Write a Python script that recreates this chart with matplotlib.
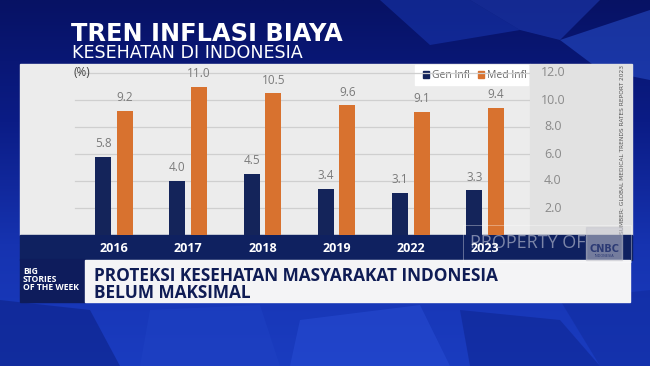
import matplotlib
matplotlib.use("Agg")
import matplotlib.pyplot as plt
import matplotlib.patches as mpatches
import numpy as np

# data
years = ["2016", "2017", "2018", "2019", "2022", "2023"]
gen_infl = [5.8, 4.0, 4.5, 3.4, 3.1, 3.3]
med_infl = [9.2, 11.0, 10.5, 9.6, 9.1, 9.4]
right_ticks = [2.0, 4.0, 6.0, 8.0, 10.0, 12.0]

W, H = 650, 366
NAVY = "#14245a"
ORANGE = "#d8722f"
LABEL_GRAY = "#7a7a7a"


def box(x0, y0, x1, y1):
    # pixel box (top-left origin) -> figure fraction rect
    return [x0 / W, 1 - y1 / H, (x1 - x0) / W, (y1 - y0) / H]


fig = plt.figure(figsize=(6.5, 3.66), dpi=100)

# ---- background (blue tv graphic) ----
bg = fig.add_axes([0, 0, 1, 1])
bg.set_xlim(0, W)
bg.set_ylim(H, 0)
bg.axis("off")
grad = np.linspace(0, 1, 256)[:, None] * np.ones((1, 256))
cmap = matplotlib.colors.LinearSegmentedColormap.from_list(
    "tvbg", ["#071264", "#0b1c86", "#1633b0", "#1a3cc0"])
bg.imshow(grad, extent=[0, W, H, 0], cmap=cmap, aspect="auto", zorder=0)

# some cube shapes
cubes = [
    ([(380, 0), (470, 0), (520, 30), (430, 45)], "#1a3ab8", 0.5),
    ([(470, 0), (600, 0), (560, 40), (520, 30)], "#2447c8", 0.45),
    ([(560, 40), (650, 10), (650, 80), (600, 70)], "#2b55d6", 0.5),
    ([(0, 300), (90, 310), (120, 366), (0, 366)], "#0d2288", 0.6),
    ([(150, 310), (260, 305), (280, 366), (140, 366)], "#1f42c4", 0.5),
    ([(300, 320), (420, 305), (450, 366), (290, 366)], "#2a50d8", 0.45),
    ([(460, 310), (560, 320), (600, 366), (470, 366)], "#0e2490", 0.55),
    ([(560, 300), (650, 290), (650, 366), (600, 366)], "#102a9c", 0.5),
]
for pts, c, a in cubes:
    bg.add_patch(mpatches.Polygon(pts, closed=True, color=c, alpha=a, lw=0, zorder=1))

# title
bg.text(71, 41, "TREN INFLASI BIAYA", color="white", fontsize=17.3,
        fontweight="bold", family="DejaVu Sans", va="baseline", zorder=5)
bg.text(72, 57.5, "KESEHATAN DI INDONESIA", color="white", fontsize=12.6,
        family="DejaVu Sans", va="baseline", zorder=5)

# chart panel
bg.add_patch(mpatches.Rectangle((20, 64), 510, 171, color="#ececec", zorder=2))
bg.add_patch(mpatches.Rectangle((530, 64), 102, 171, color="#e2e2e2", zorder=2))
bg.add_patch(mpatches.Rectangle((20, 235), 612, 25, color="#0f2160", zorder=2))

# right axis labels
for t in right_ticks:
    y = 235 - t * 13.5
    bg.text(553, y, f"{t:.1f}", color="#8a8a8a", fontsize=9, ha="center",
            va="center", family="Open Sans", zorder=5)

bg.text(623, 150, "SUMBER: GLOBAL MEDICAL TRENDS RATES REPORT 2023", rotation=90,
        color="#555555", fontsize=4.2, ha="center", va="center", zorder=5)

# year labels on the navy strip
for i, yr in enumerate(years):
    bg.text(114 + 74.2 * i, 248, yr, color="white", fontsize=9, fontweight="bold",
            ha="center", va="center", family="Open Sans", zorder=5)

# lower third
bg.add_patch(mpatches.Rectangle((20, 259), 65, 43, color="#0e1c5c", zorder=2))
bg.add_patch(mpatches.Rectangle((85, 260), 545, 42, color="#f4f4f6", zorder=2))
for k, line in enumerate(["BIG", "STORIES", "OF THE WEEK"]):
    bg.text(23, 272 + 7.5 * k, line, color="white", fontsize=6.2, fontweight="bold",
            va="center", family="Open Sans", zorder=5)
bg.text(94, 276, "PROTEKSI KESEHATAN MASYARAKAT INDONESIA", color="#0f1c55",
        fontsize=12.4, fontweight="bold", va="center", family="Open Sans", zorder=5)
bg.text(94, 293, "BELUM MAKSIMAL", color="#0f1c55", fontsize=12.4,
        fontweight="bold", va="center", family="Open Sans", zorder=5)

# ---- bar chart ----
ax = fig.add_axes(box(20, 64, 530, 235))
ax.set_facecolor("none")
x = np.arange(len(years))
bw = 0.215
ax.set_xlim((20 - 114) / 74.2, (530 - 114) / 74.2)
ax.set_ylim(0, 171 / 13.5)
for t in right_ticks:
    ax.axhline(t, xmin=55 / 510, xmax=1, color="#cfcfcf", lw=0.9, zorder=0)

ax.bar(x - 0.145, gen_infl, bw, color=NAVY, zorder=2)
ax.bar(x + 0.145, med_infl, bw, color=ORANGE, zorder=2)
for xi, g, m in zip(x, gen_infl, med_infl):
    ax.text(xi - 0.145, g + 0.5, f"{g:.1f}", ha="center", va="bottom",
            color=LABEL_GRAY, fontsize=8.5, family="Open Sans")
    ax.text(xi + 0.145, m + 0.5, f"{m:.1f}", ha="center", va="bottom",
            color=LABEL_GRAY, fontsize=8.5, family="Open Sans")
ax.text(-0.43, 12.05, "(%)", color="#444444", fontsize=8.5, ha="center",
        va="center", family="Open Sans")
ax.set_xticks([])
ax.set_yticks([])
for s in ax.spines.values():
    s.set_visible(False)

# legend box (drawn on the background axes, in pixels)
bg.add_patch(mpatches.Rectangle((415, 65), 113, 20, color="white", zorder=6))
bg.add_patch(mpatches.Rectangle((423, 71), 6, 7, color=NAVY, zorder=7))
bg.text(432, 75, "Gen Infl", color="#666666", fontsize=7.5, va="center",
        family="Open Sans", zorder=7)
bg.add_patch(mpatches.Rectangle((478, 71), 6, 7, color=ORANGE, zorder=7))
bg.text(487, 75, "Med Infl", color="#666666", fontsize=7.5, va="center",
        family="Open Sans", zorder=7)

# watermark
wm = fig.add_axes([0, 0, 1, 1])
wm.set_xlim(0, W)
wm.set_ylim(H, 0)
wm.axis("off")
wm.patch.set_alpha(0)
wm.add_patch(mpatches.Rectangle((463, 225), 168, 37, fill=False,
                                ec="white", lw=0.6, alpha=0.4))
wm.text(470, 243, "PROPERTY OF", color="white", alpha=0.45, fontsize=13,
        va="center", family="Open Sans")
wm.add_patch(mpatches.Rectangle((586, 227), 36, 33, color="#c8c8d0", alpha=0.55))
wm.text(604, 249, "CNBC", color="#1a2a6a", fontsize=7, fontweight="bold",
        ha="center", va="center", alpha=0.8)
wm.text(604, 256, "INDONESIA", color="#1a2a6a", fontsize=2.5, ha="center",
        va="center", alpha=0.8)

fig.savefig("out.png", dpi=100)
